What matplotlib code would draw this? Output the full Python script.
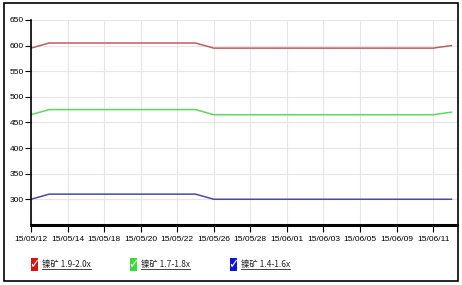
import matplotlib
matplotlib.use("Agg")
import matplotlib.pyplot as plt
from matplotlib.patches import Rectangle

plt.rcParams['font.family'] = ['Noto Sans CJK SC', 'DejaVu Sans']
tick_font = 'Liberation Sans'

# tick labels shown on every second point
tick_labels = ['15/05/12', '15/05/14', '15/05/18', '15/05/20', '15/05/22', '15/05/26',
               '15/05/28', '15/06/01', '15/06/03', '15/06/05', '15/06/09', '15/06/11']
n_points = 24

red_vals = [595] + [605] * 9 + [595] * 13 + [600]
green_vals = [465] + [475] * 9 + [465] * 13 + [470]
blue_vals = [300] + [310] * 9 + [300] * 13 + [300]

series_names = ['镍矿 1.9-2.0x', '镍矿 1.7-1.8x', '镍矿 1.4-1.6x']
series_colors = ['#c65a5a', '#5fd85f', '#4a4aa8']
box_colors = ['#e01010', '#30e030', '#1010e0']

fig = plt.figure(figsize=(4.62, 2.85), dpi=100)
ax = fig.add_axes([0.067, 0.211, 0.922, 0.719])

x = list(range(n_points))
for vals, c in zip([red_vals, green_vals, blue_vals], series_colors):
    ax.plot(x, vals, color=c, lw=1.1)

ax.set_xlim(0, 23.3)
ax.set_ylim(250, 650)
ax.set_xticks(range(0, 2 * len(tick_labels), 2))
ax.set_xticklabels(tick_labels, fontsize=6, family=tick_font)
ax.set_yticks(range(300, 651, 50))
ax.set_yticklabels([str(v) for v in range(300, 651, 50)], fontsize=6, family=tick_font)
ax.grid(True, color='#e6e6ea', lw=0.8)
ax.set_axisbelow(True)
for s in ['top', 'right']:
    ax.spines[s].set_visible(False)
ax.spines['bottom'].set_linewidth(2.2)
ax.spines['left'].set_linewidth(1.2)
ax.tick_params(axis='x', length=5, width=0.8, pad=3, colors='black')
ax.tick_params(axis='y', length=4, width=0.8, pad=1)

# outer frame
fig.patches.append(Rectangle((0.009, 0.014), 0.983, 0.975, transform=fig.transFigure,
                             fill=False, edgecolor='black', lw=1.2))

# legend with check boxes and underlined labels
fig.canvas.draw()
renderer = fig.canvas.get_renderer()
box_x = [31, 130, 230]
for bx, name, bc in zip(box_x, series_names, box_colors):
    fx, fy = bx / 462, 1 - 271 / 285
    fig.patches.append(Rectangle((fx, fy), 7 / 462, 13 / 285, transform=fig.transFigure,
                                 facecolor=bc, edgecolor='none'))
    fig.text(fx + 3.5 / 462, fy + 6 / 285, '✓', color='white', fontsize=9,
             ha='center', va='center', family='DejaVu Sans', weight='bold')
    t = fig.text((bx + 11) / 462, fy + 2 / 285, name, fontsize=6, color='#222222', va='bottom')
    bb = t.get_window_extent(renderer).transformed(fig.transFigure.inverted())
    fig.lines.append(plt.Line2D([bb.x0, bb.x1], [bb.y0, bb.y0], transform=fig.transFigure,
                                color='#222222', lw=0.6))

fig.savefig('out.png', dpi=100)
